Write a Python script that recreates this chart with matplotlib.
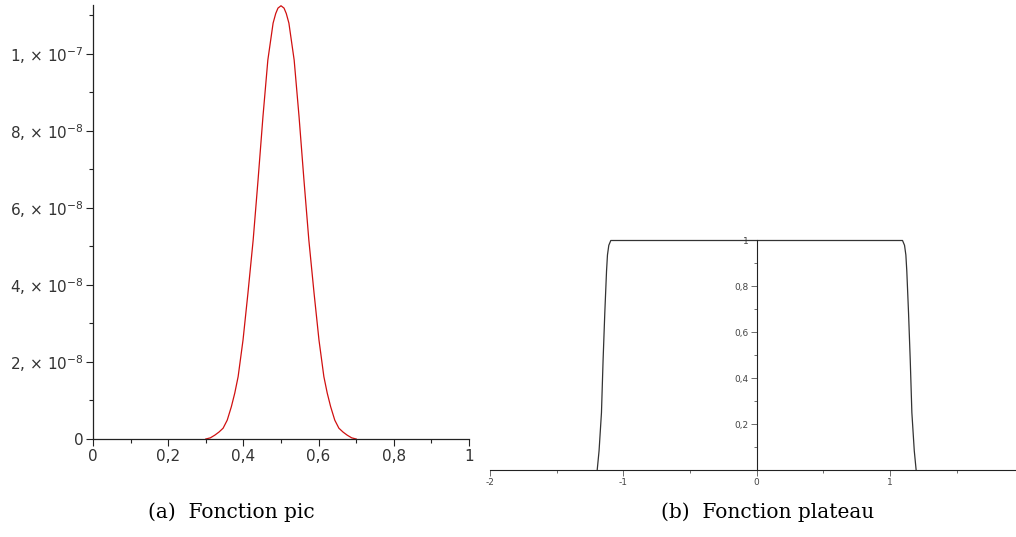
import matplotlib

matplotlib.use("Agg")
import matplotlib.pyplot as plt
from matplotlib.ticker import MultipleLocator


# (a) Fonction pic : points (y en unités de 1e-8)
PIC_X = [0.300, 0.312, 0.324, 0.335, 0.346, 0.357, 0.368, 0.377, 0.386,
         0.399, 0.412, 0.426, 0.439, 0.452, 0.465, 0.479, 0.486, 0.492,
         0.500, 0.508, 0.514, 0.521, 0.535, 0.548, 0.561, 0.574, 0.588,
         0.601, 0.614, 0.623, 0.632, 0.643, 0.654, 0.665, 0.676, 0.688,
         0.700]
PIC_Y = [0.0, 0.03, 0.10, 0.18, 0.28, 0.49, 0.84, 1.19, 1.62,
         2.57, 3.78, 5.17, 6.73, 8.37, 9.84, 10.80, 11.05, 11.19,
         11.25, 11.19, 11.05, 10.80, 9.84, 8.37, 6.73, 5.17, 3.78,
         2.57, 1.62, 1.19, 0.84, 0.49, 0.28, 0.18, 0.10, 0.03,
         0.0]
PIC_XTICKS = [0, 0.2, 0.4, 0.6, 0.8, 1]
PIC_XLABELS = ["0", "0,2", "0,4", "0,6", "0,8", "1"]
PIC_YTICKS = [0, 2, 4, 6, 8, 10]
PIC_YLABELS = ["0", "2, × 10$^{-8}$", "4, × 10$^{-8}$", "6, × 10$^{-8}$",
               "8, × 10$^{-8}$", "1, × 10$^{-7}$"]

# (b) Fonction plateau
PLATEAU_X = [-1.196, -1.182, -1.164, -1.152, -1.139, -1.126, -1.119, -1.109,
             -1.094, 0.0, 1.094, 1.109, 1.119, 1.126, 1.139, 1.152, 1.164,
             1.182, 1.196]
PLATEAU_Y = [0.0, 0.084, 0.25, 0.476, 0.685, 0.867, 0.937, 0.979,
             1.0, 1.0, 1.0, 0.979, 0.937, 0.867, 0.685, 0.476, 0.25,
             0.084, 0.0]
PLATEAU_XTICKS = [-2, -1, 0, 1]
PLATEAU_XLABELS = ["-2", "-1", "0", "1"]
PLATEAU_YTICKS = [0.2, 0.4, 0.6, 0.8, 1]
PLATEAU_YLABELS = ["0,2", "0,4", "0,6", "0,8", "1"]

CAPTIONS = ["(a)  Fonction pic", "(b)  Fonction plateau"]

W, H = 1016, 537
AXIS_COLOR = "#222222"


def px_axes(fig, left, right, bottom, top):
    return fig.add_axes([left / W, 1 - bottom / H, (right - left) / W,
                         (bottom - top) / H])


def main():
    fig = plt.figure(figsize=(W / 100, H / 100), dpi=100)

    # --- panneau (a)
    ax = px_axes(fig, 93, 469, 439, 5)
    ax.plot(PIC_X, PIC_Y, color="#d01010", lw=0.9)
    ax.set_xlim(0, 1)
    ax.set_ylim(0, 11.27)
    for side in ["top", "right"]:
        ax.spines[side].set_visible(False)
    for side in ["left", "bottom"]:
        ax.spines[side].set_color(AXIS_COLOR)
        ax.spines[side].set_linewidth(0.9)
    ax.set_xticks(PIC_XTICKS, PIC_XLABELS)
    ax.set_yticks(PIC_YTICKS, PIC_YLABELS)
    ax.xaxis.set_minor_locator(MultipleLocator(0.1))
    ax.yaxis.set_minor_locator(MultipleLocator(1))
    ax.tick_params(which="both", direction="out", color=AXIS_COLOR,
                   width=0.8, labelsize=11, labelcolor="#333333")
    ax.tick_params(which="major", length=5, pad=2)
    ax.tick_params(which="minor", length=3)

    # --- panneau (b)
    bx = px_axes(fig, 490, 1016, 470, 240.5)
    bx.plot(PLATEAU_X, PLATEAU_Y, color="#333333", lw=0.9, clip_on=False)
    bx.set_xlim(-2, 1.945)
    bx.set_ylim(0, 1)
    for side in ["top", "right"]:
        bx.spines[side].set_visible(False)
    bx.spines["left"].set_position(("data", 0))
    for side in ["left", "bottom"]:
        bx.spines[side].set_color(AXIS_COLOR)
        bx.spines[side].set_linewidth(0.8)
    bx.set_xticks(PLATEAU_XTICKS, PLATEAU_XLABELS)
    bx.set_yticks(PLATEAU_YTICKS, PLATEAU_YLABELS)
    bx.xaxis.set_minor_locator(MultipleLocator(0.5))
    bx.yaxis.set_minor_locator(MultipleLocator(0.1))
    bx.tick_params(which="both", direction="out", color="#555555",
                   width=0.6, labelsize=6.5, labelcolor="#444444")
    bx.tick_params(which="major", length=4, pad=2)
    bx.tick_params(which="minor", length=2)

    # légendes
    fig.text(231 / W, 1 - 512 / H, CAPTIONS[0], ha="center", va="center",
             fontsize=14.5, family="DejaVu Serif")
    fig.text(768 / W, 1 - 512 / H, CAPTIONS[1], ha="center", va="center",
             fontsize=14.5, family="DejaVu Serif")

    fig.savefig("out.png", dpi=100)
    plt.close(fig)


if __name__ == "__main__":
    main()
